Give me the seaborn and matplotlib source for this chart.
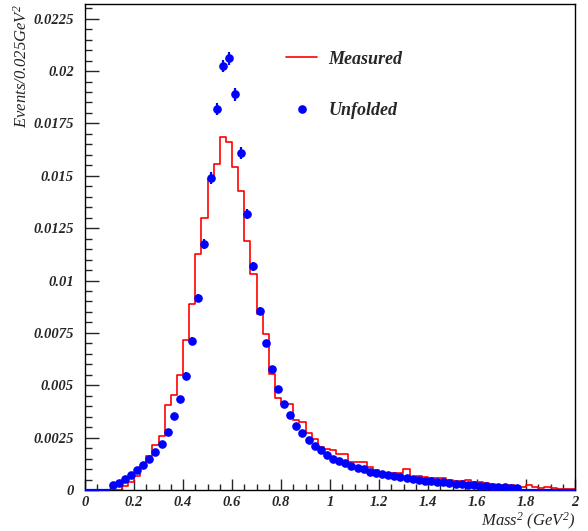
import numpy as np
import pandas as pd
import seaborn as sns
import matplotlib
matplotlib.use("Agg")
import matplotlib.pyplot as plt
from matplotlib.ticker import MultipleLocator, FuncFormatter
from matplotlib.lines import Line2D

# bin edges: 80 bins of 0.025 GeV^2 between 0 and 2
bin_lo = 0.0
bin_hi = 2.0
n_bins = 80

measured = [
    0, 0, 0, 0, 0, 0,
    0.00019, 0.0004, 0.00065, 0.00113, 0.00162, 0.00215, 0.0026, 0.00405,
    0.00453, 0.00549, 0.00714, 0.00889, 0.01126, 0.01298, 0.01484, 0.01555,
    0.01686, 0.01659, 0.01542, 0.01426, 0.01189, 0.01029, 0.00838, 0.00743,
    0.00552, 0.00437, 0.00409, 0.00409, 0.00334, 0.00326, 0.00273, 0.00243,
    0.00203, 0.00197,
    0.00192, 0.0017, 0.0017, 0.00135, 0.00135, 0.00135, 0.0011, 0.00095,
    0.00083, 0.00083, 0.00083, 0.00083, 0.001, 0.00064, 0.00068, 0.0006,
    0.00058, 0.00056, 0.00056, 0.0005, 0.00045, 0.00042, 0.00047, 0.00038,
    0.00036, 0.00035, 0.00028, 0.00026, 0.00024, 0.00022, 0.0002, 0.00014,
    0.00024, 0.00012, 0.0001, 0.00012, 0.0001, 0.00007, 0.00007, 0.00007,
]

unfolded = [
    0, 0, 0, 0,
    0.00022, 0.00035, 0.00054, 0.00072, 0.00095, 0.00121, 0.00146, 0.00183,
    0.00221, 0.00276, 0.00354, 0.00435, 0.00546, 0.00712, 0.00918, 0.01174,
    0.01489, 0.01818, 0.02024, 0.0206, 0.01889, 0.01608, 0.01317, 0.01067,
    0.00855, 0.007, 0.0058, 0.00482, 0.00409, 0.00358, 0.00307, 0.0027,
    0.0024, 0.00208, 0.00189, 0.00169, 0.00148, 0.0014, 0.00127, 0.00115,
    0.00104, 0.00099, 0.00087, 0.00083, 0.00078, 0.00072, 0.00069, 0.00064,
    0.00059, 0.00054, 0.0005, 0.00045, 0.00042, 0.0004, 0.00036, 0.00032,
    0.0003, 0.00027, 0.00025, 0.00022, 0.0002, 0.00018, 0.00016, 0.00014,
    0.00012, 0.0001, 0.00009,
    0, 0, 0, 0, 0, 0, 0, 0, 0,
]

unfolded_err = [
    0, 0, 0, 0,
    0.00002, 0.00003, 0.00003, 0.00004, 0.00004, 0.00005, 0.00005, 0.00006,
    0.00007, 0.00008, 0.0001, 0.00012, 0.00015, 0.00018, 0.0002, 0.00025,
    0.00028, 0.0003, 0.0003, 0.0003, 0.0003, 0.00028, 0.00025, 0.0002,
    0.00018, 0.00015, 0.00012, 0.0001, 0.00008, 0.00007, 0.00006, 0.00006,
    0.00005, 0.00005, 0.00004, 0.00004, 0.00004, 0.00004, 0.00003, 0.00003,
    0.00003, 0.00003, 0.00003, 0.00003, 0.00003, 0.00003, 0.00002, 0.00002,
    0.00002, 0.00002, 0.00002, 0.00002, 0.00002, 0.00002, 0.00002, 0.00002,
    0.00002, 0.00002, 0.00002, 0.00002, 0.00002, 0.00002, 0.00002, 0.00002,
    0.00002, 0.00002, 0.00002,
    0, 0, 0, 0, 0, 0, 0, 0, 0,
]

edges = np.linspace(bin_lo, bin_hi, n_bins + 1)
centers = 0.5 * (edges[:-1] + edges[1:])
half_w = 0.5 * (edges[1] - edges[0])
df = pd.DataFrame({"mass2": centers, "measured": measured,
                   "unfolded": unfolded, "err": unfolded_err})

sns.set_style("ticks")
plt.rcParams["font.family"] = ["Liberation Serif", "DejaVu Serif"]
plt.rcParams["font.weight"] = "bold"
plt.rcParams["font.style"] = "italic"
plt.rcParams["mathtext.default"] = "regular"

fig = plt.figure(figsize=(5.88, 5.31), dpi=100)
ax = fig.add_axes([85 / 588, 41 / 531, 490 / 588, 486 / 531])

# measured spectrum as a step histogram
sns.histplot(data=df, x="mass2", weights="measured", bins=list(edges),
             element="step", fill=False, color="red", linewidth=1.2, ax=ax)

# unfolded points with error bars
nz = df[df["unfolded"] > 0]
zero = df[df["unfolded"] == 0]
ax.errorbar(nz["mass2"], nz["unfolded"], yerr=nz["err"], fmt="o",
            color="blue", markersize=5.2, elinewidth=1.6, capsize=0, zorder=3)
# empty bins only show the horizontal bin width on the axis
ax.errorbar(zero["mass2"], zero["unfolded"], xerr=half_w, fmt="none",
            ecolor="blue", elinewidth=1.6, capsize=0, zorder=3, clip_on=False)

ax.set_xlim(0, 2)
ax.set_ylim(0, 0.0232)
ax.xaxis.set_major_locator(MultipleLocator(0.2))
ax.xaxis.set_minor_locator(MultipleLocator(0.05))
ax.yaxis.set_major_locator(MultipleLocator(0.0025))
ax.yaxis.set_minor_locator(MultipleLocator(0.0005))
ax.xaxis.set_major_formatter(FuncFormatter(lambda v, p: "%g" % round(v, 4)))
ax.yaxis.set_major_formatter(FuncFormatter(lambda v, p: "%g" % round(v, 5)))
ax.tick_params(which="both", direction="in", top=False, right=False,
               labelsize=10.5, width=1)
ax.tick_params(axis="y", which="major", length=10, pad=8)
ax.tick_params(axis="y", which="minor", length=5)
ax.tick_params(axis="x", which="major", length=8, pad=4)
ax.tick_params(axis="x", which="minor", length=4)
for s in ax.spines.values():
    s.set_linewidth(1.0)
    s.set_color("black")

ax.set_xlabel("Mass$^{2}$ (GeV$^{2}$)", loc="right", fontsize=12, labelpad=2)
ax.set_ylabel("Events/0.025GeV$^{2}$", loc="top", fontsize=12, labelpad=2)

handles = [
    Line2D([], [], color="red", linewidth=1.2),
    Line2D([], [], color="blue", marker="o", linestyle="none", markersize=5.2),
]
ax.legend(handles, ["Measured", "Unfolded"], loc="upper left",
          bbox_to_anchor=(0.41, 0.904), frameon=False, fontsize=13,
          handlelength=1.75, handletextpad=0.6, labelspacing=1.9,
          borderpad=0, borderaxespad=0)

fig.savefig("out.png", dpi=100)
